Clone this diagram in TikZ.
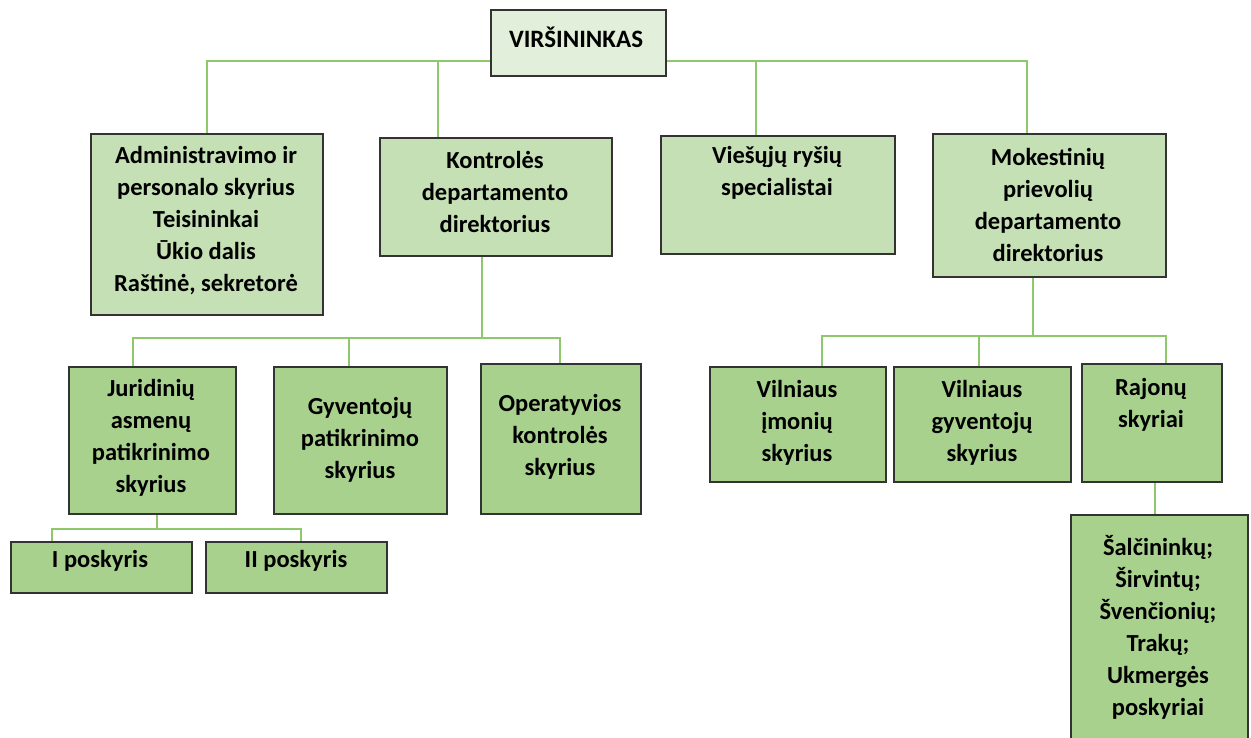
\documentclass[tikz,border=0pt]{standalone}
\usepackage{fontspec}
\setmainfont{Carlito}
\definecolor{topfill}{HTML}{E2EFDA}
\definecolor{midfill}{HTML}{C5E0B4}
\definecolor{lowfill}{HTML}{A9D18E}
\definecolor{linegreen}{HTML}{8EC86A}
\definecolor{edge}{HTML}{333333}
\begin{document}
\begin{tikzpicture}[x=1pt,y=-1pt,
  boxbase/.style={draw=edge,line width=1.6pt,anchor=north west,inner sep=0pt,rectangle},
  topbox/.style={boxbase,fill=topfill},
  midbox/.style={boxbase,fill=midfill},
  lowbox/.style={boxbase,fill=lowfill},
  txt/.style={align=center,inner sep=0pt,font=\bfseries\fontsize{24.5}{32}\selectfont,text=black},
  conn/.style={draw=linegreen,line width=2pt}]
\useasboundingbox (0,0) rectangle (1251,738);
\clip (0,0) rectangle (1251,738);
% bus coordinates
\coordinate (b1l) at (207,61);
\coordinate (b1r) at (1027,61);
\coordinate (d1k) at (438,61);
\coordinate (d1v) at (756,61);
\coordinate (b2l) at (133,338);
\coordinate (b2r) at (560,338);
\coordinate (d2g) at (349,338);
\coordinate (b3l) at (822,336);
\coordinate (b3r) at (1166,336);
\coordinate (d3g) at (979,336);
\coordinate (b4l) at (52,529);
\coordinate (b4r) at (301,529);
% boxes
\node[midbox,minimum width=232pt,minimum height=181pt] (adm) at (90,133) {};
\node[midbox,minimum width=232pt,minimum height=118pt] (kon) at (379,137) {};
\node[midbox,minimum width=234pt,minimum height=118pt] (vie) at (660,135) {};
\node[midbox,minimum width=233pt,minimum height=143pt] (mok) at (932,133) {};
\node[lowbox,minimum width=167pt,minimum height=147pt] (jur) at (68,366) {};
\node[lowbox,minimum width=173pt,minimum height=147pt] (gyv) at (273,366) {};
\node[lowbox,minimum width=160pt,minimum height=150pt] (ope) at (480,363) {};
\node[lowbox,minimum width=176pt,minimum height=115pt] (vim) at (709,366) {};
\node[lowbox,minimum width=177pt,minimum height=115pt] (vgy) at (893,366) {};
\node[lowbox,minimum width=140pt,minimum height=118pt] (raj) at (1081,363) {};
\node[lowbox,minimum width=181pt,minimum height=51pt] (p1) at (10,541) {};
\node[lowbox,minimum width=181pt,minimum height=51pt] (p2) at (205,541) {};
\node[lowbox,minimum width=177pt,minimum height=240pt] (pos) at (1070,514) {};
% connector paths
\path[conn] (adm.north -| b1l) -- (b1l) -- (b1r) -- (mok.north -| b1r);
\path[conn] (d1k) -- (kon.north -| d1k);
\path[conn] (d1v) -- (vie.north -| d1v);
\path[conn] (kon.south -| 482,0) -- (482,338);
\path[conn] (jur.north -| b2l) -- (b2l) -- (b2r) -- (ope.north -| b2r);
\path[conn] (d2g) -- (gyv.north -| d2g);
\path[conn] (mok.south -| 1033,0) -- (1033,336);
\path[conn] (vim.north -| b3l) -- (b3l) -- (b3r) -- (raj.north -| b3r);
\path[conn] (d3g) -- (vgy.north -| d3g);
\path[conn] (jur.south -| 157,0) -- (157,529);
\path[conn] (p1.north -| b4l) -- (b4l) -- (b4r) -- (p2.north -| b4r);
\path[conn] (raj.south -| 1155,0) -- (pos.north -| 1155,0);
% top box drawn after bus line so it covers it
\node[topbox,minimum width=175pt,minimum height=66pt] (top) at (490,9) {};
% texts
\node[txt,font=\bfseries\fontsize{25}{32}\selectfont] (ttop) at (576,37) {VIRŠININKAS};
\node[txt] (tadm) at (206,221) {Administravimo ir\\personalo skyrius\\Teisininkai\\Ūkio dalis\\Raštinė, sekretorė};
\node[txt] (tkon) at (495,192) {Kontrolės\\departamento\\direktorius};
\node[txt] (tvie) at (777,173) {Viešųjų ryšių\\specialistai};
\node[txt] (tmok) at (1048,205) {Mokestinių\\prievolių\\departamento\\direktorius};
\node[txt] (tjur) at (151,438) {Juridinių\\asmenų\\patikrinimo\\skyrius};
\node[txt] (tgyv) at (360,440) {Gyventojų\\patikrinimo\\skyrius};
\node[txt] (tope) at (560,437) {Operatyvios\\kontrolės\\skyrius};
\node[txt] (tvim) at (797,423) {Vilniaus\\įmonių\\skyrius};
\node[txt] (tvgy) at (982,423) {Vilniaus\\gyventojų\\skyrius};
\node[txt] (traj) at (1151,405) {Rajonų\\skyriai};
\node[txt] (tp1) at (100,561) {I poskyris};
\node[txt] (tp2) at (296,561) {II poskyris};
\node[txt] (tpos) at (1158,627) {Šalčininkų;\\Širvintų;\\Švenčionių;\\Trakų;\\Ukmergės\\poskyriai};
\end{tikzpicture}
\end{document}
